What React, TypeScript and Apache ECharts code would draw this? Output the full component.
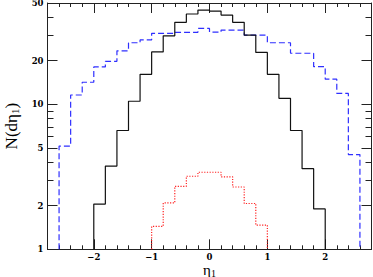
import React, { useEffect, useRef } from "react";
import * as echarts from "echarts";

// Bin edges (eta_1), width 0.2
const binEdges = [
  -2.6, -2.4, -2.2, -2.0, -1.8, -1.6, -1.4, -1.2, -1.0, -0.8, -0.6, -0.4, -0.2,
  0.0, 0.2, 0.4, 0.6, 0.8, 1.0, 1.2, 1.4, 1.6, 1.8, 2.0, 2.2, 2.4, 2.6,
];

// Blue dashed: bins from -2.6 to 2.6
const blueStart = 0;
const blueValues = [
  5.15, 11.6, 14.2, 18.1, 19.8, 23.4, 26.6, 27.8, 30.9, 30.9, 31.4, 31.4, 33.4,
  31.5, 32.5, 32.5, 30.0, 30.0, 26.6, 26.6, 22.5, 22.5, 18.2, 14.9, 11.9, 4.5,
];

// Black solid: bins from -2.0 to 2.0
const blackStart = 3;
const blackValues = [
  2.05, 3.75, 6.6, 10.5, 16.1, 23.0, 29.7, 36.8, 42.0, 44.7, 44.0, 41.3, 36.8,
  30.0, 22.8, 16.1, 11.0, 6.6, 3.6, 1.9,
];

// Red dotted: bins from -1.0 to 1.0
const redStart = 8;
const redValues = [1.44, 2.09, 2.72, 3.19, 3.4, 3.4, 3.16, 2.69, 2.07, 1.47];

const xMajorTicks = [-2, -1, 0, 1, 2];
const yMajorTicks = [1, 2, 5, 10, 20, 50];
const yMinorTicks = [3, 4, 6, 7, 8, 9, 30, 40];

function stepPoints(start: number, vals: number[]): number[][] {
  const pts: number[][] = [[binEdges[start], 1]];
  vals.forEach((v, i) => pts.push([binEdges[start + i], v]));
  pts.push([binEdges[start + vals.length], 1]);
  return pts;
}

const AXIS_COLOR = "#222";
const lineStyle = { color: AXIS_COLOR, width: 1 };
const labelFont = {
  fontFamily: "DejaVu Serif",
  fontWeight: "bold" as const,
  fontSize: 8.5,
  color: "#000",
};

export default function App() {
  const ref = useRef<HTMLDivElement>(null);
  useEffect(() => {
    if (!ref.current) return;
    const chart = echarts.init(ref.current, null, { renderer: "svg" });
    const gridRect = {
      left: 47.5,
      right: 1.5,
      top: 3,
      bottom: 27.7,
      containLabel: false,
      outerBoundsMode: "none",
    };
    const fmt = (v: number) => (v < 0 ? "\u2212" + Math.abs(v) : String(v));
    const xBase = {
      type: "value",
      min: -2.8,
      max: 2.8,
      splitLine: { show: false },
    };
    const yBase = {
      type: "log",
      min: 1,
      max: 50,
      splitLine: { show: false },
    };
    chart.setOption({
      animation: false,
      backgroundColor: "#fff",
      grid: [{ ...gridRect }, { ...gridRect }],
      xAxis: [
        {
          ...xBase,
          gridIndex: 0,
          position: "bottom",
          axisLine: { show: true, onZero: false, lineStyle },
          axisTick: { show: true, inside: true, length: 10, customValues: xMajorTicks, lineStyle },
          axisLabel: {
            show: true,
            customValues: xMajorTicks,
            formatter: fmt,
            margin: 4,
            lineHeight: 8,
            ...labelFont,
          },
          name: "{n|\u03b7}{s|1}",
          nameLocation: "middle",
          nameGap: 15,
          nameMoveOverlap: false,
          nameTextStyle: {
            rich: {
              n: { fontFamily: "Liberation Serif", fontSize: 15, color: "#000", lineHeight: 12 },
              s: { fontFamily: "Liberation Serif", fontSize: 10, color: "#000", padding: [6, 0, 0, 0], lineHeight: 12 },
            },
          },
        },
        {
          ...xBase,
          gridIndex: 0,
          position: "top",
          axisLine: { show: true, onZero: false, lineStyle },
          axisTick: { show: true, inside: true, length: 10, customValues: xMajorTicks, lineStyle },
          axisLabel: { show: false },
        },
        {
          ...xBase,
          gridIndex: 1,
          position: "bottom",
          interval: 0.2,
          axisLine: { show: false, onZero: false },
          axisTick: { show: true, inside: true, length: 4, lineStyle },
          axisLabel: { show: false },
        },
        {
          ...xBase,
          gridIndex: 1,
          position: "top",
          interval: 0.2,
          axisLine: { show: false, onZero: false },
          axisTick: { show: true, inside: true, length: 4, lineStyle },
          axisLabel: { show: false },
        },
      ],
      yAxis: [
        {
          ...yBase,
          gridIndex: 0,
          position: "left",
          axisLine: { show: true, onZero: false, lineStyle },
          axisTick: { show: true, inside: true, length: 10, customValues: yMajorTicks, lineStyle },
          axisLabel: {
            show: true,
            customValues: yMajorTicks,
            formatter: (v: number) => String(Math.round(v)),
            margin: 4,
            lineHeight: 6,
            ...labelFont,
          },
          name: "{a|N(d\u03b7}{s|1}{a|)}",
          nameLocation: "middle",
          nameGap: 27,
          nameRotate: 90,
          nameMoveOverlap: false,
          nameTextStyle: {
            rich: {
              a: { fontFamily: "Liberation Serif", fontSize: 17, color: "#000" },
              s: { fontFamily: "Liberation Serif", fontSize: 11, color: "#000", padding: [8, 0, 0, 0] },
            },
          },
        },
        {
          ...yBase,
          gridIndex: 0,
          position: "right",
          axisLine: { show: true, onZero: false, lineStyle },
          axisTick: { show: true, inside: true, length: 10, customValues: yMajorTicks, lineStyle },
          axisLabel: { show: false },
        },
        {
          ...yBase,
          gridIndex: 1,
          position: "left",
          axisLine: { show: false, onZero: false },
          axisTick: { show: true, inside: true, length: 6, customValues: yMinorTicks, lineStyle },
          axisLabel: { show: false },
        },
        {
          ...yBase,
          gridIndex: 1,
          position: "right",
          axisLine: { show: false, onZero: false },
          axisTick: { show: true, inside: true, length: 6, customValues: yMinorTicks, lineStyle },
          axisLabel: { show: false },
        },
      ],
      series: [
        {
          type: "line",
          xAxisIndex: 0,
          yAxisIndex: 0,
          step: "end",
          symbol: "none",
          data: stepPoints(blueStart, blueValues),
          lineStyle: { color: "#2f2fff", width: 1.2, type: [6, 3] },
          z: 3,
        },
        {
          type: "line",
          xAxisIndex: 0,
          yAxisIndex: 0,
          step: "end",
          symbol: "none",
          data: stepPoints(blackStart, blackValues),
          lineStyle: { color: "#111", width: 1.2, type: "solid" },
          z: 4,
        },
        {
          type: "line",
          xAxisIndex: 0,
          yAxisIndex: 0,
          step: "end",
          symbol: "none",
          data: stepPoints(redStart, redValues),
          lineStyle: { color: "#ff2020", width: 1.2, type: [1.2, 1.5] },
          z: 5,
        },
      ],
    });
    return () => chart.dispose();
  }, []);
  return (
    <div
      ref={ref}
      style={{ position: "fixed", left: 0, top: 0, width: 373, height: 277, background: "#fff" }}
    />
  );
}
